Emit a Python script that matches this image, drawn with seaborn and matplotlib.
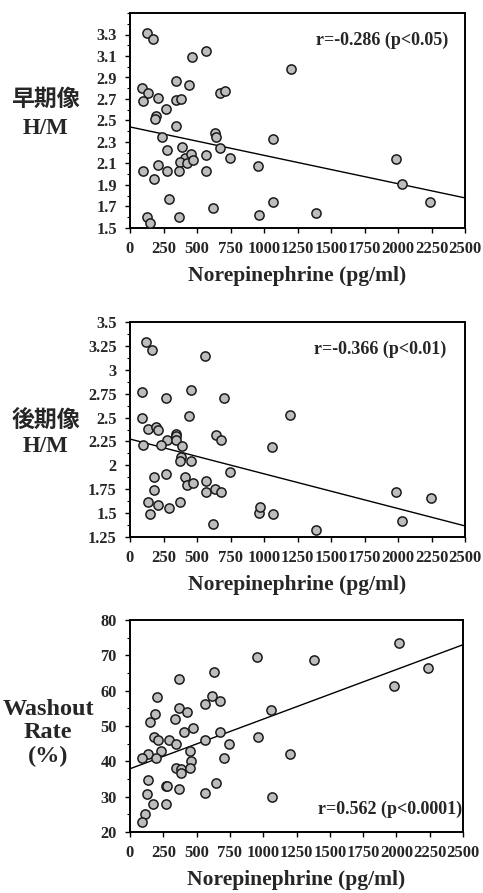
import numpy as np
import pandas as pd
import matplotlib
matplotlib.use("Agg")
import matplotlib.pyplot as plt
from matplotlib.ticker import MultipleLocator
import seaborn as sns

# ---------------- data ----------------
ne_early = [124, 174, 459, 566, 1199, 342, 442, 87, 137, 94, 211, 340, 377, 268, 675, 707,
            194, 186, 347, 236, 633, 643, 1067, 278, 387, 675, 407, 372, 427, 452, 472, 566,
            745, 211, 99, 273, 367, 566, 956, 179, 293, 616, 1067, 129, 149, 365, 963,
            1988, 2027, 2241, 1390]
hm_early = [3.31, 3.26, 3.095, 3.148, 2.98, 2.87, 2.83, 2.806, 2.754, 2.68, 2.71, 2.69, 2.70,
            2.61, 2.76, 2.775, 2.545, 2.51, 2.45, 2.35, 2.386, 2.35, 2.33, 2.23, 2.256, 2.24,
            2.15, 2.11, 2.105, 2.19, 2.13, 2.18, 2.147, 2.09, 2.03, 2.03, 2.03, 2.03, 2.076,
            1.955, 1.77, 1.687, 1.74, 1.60, 1.55, 1.60, 1.625, 2.14, 1.91, 1.74, 1.64]

ne_late = [119, 166, 561, 87, 454, 268, 700, 1191, 92, 437, 132, 191, 211, 340, 342, 640, 678,
           278, 342, 99, 231, 390, 1062, 380, 372, 452, 745, 181, 268, 410, 422, 472, 564, 181,
           564, 633, 678, 132, 211, 293, 372, 149, 961, 968, 1067, 616, 1988, 2246, 2027, 1390]
hm_late = [3.29, 3.21, 3.14, 2.765, 2.79, 2.706, 2.706, 2.53, 2.496, 2.52, 2.38, 2.40, 2.37,
           2.33, 2.31, 2.32, 2.265, 2.265, 2.26, 2.216, 2.216, 2.20, 2.195, 2.09, 2.05, 2.05,
           1.93, 1.873, 1.908, 1.873, 1.796, 1.82, 1.838, 1.74, 1.716, 1.75, 1.716, 1.618,
           1.583, 1.558, 1.618, 1.495, 1.505, 1.569, 1.495, 1.383, 1.716, 1.663, 1.418, 1.324]

ne_wr = [951, 628, 367, 206, 613, 678, 564, 367, 427, 1062, 186, 335, 149, 472, 404, 675, 179,
         961, 211, 293, 564, 342, 745, 236, 447, 137, 92, 194, 707, 1199, 459, 342, 385, 447,
         385, 132, 645, 268, 281, 365, 124, 564, 1067, 174, 273, 112, 87, 2018, 1385, 2234, 1981]
washout = [69.4, 65.3, 63.4, 58.3, 58.5, 57.1, 56.1, 55.2, 54.0, 54.4, 53.3, 52.1, 51.1, 49.5,
           48.2, 48.2, 46.9, 46.9, 46.0, 46.0, 46.0, 45.0, 45.0, 43.0, 43.0, 42.1, 40.9, 40.9,
           40.9, 42.1, 40.0, 38.1, 37.9, 38.1, 36.7, 34.8, 34.0, 33.1, 32.9, 32.1, 30.8, 31.0,
           29.9, 28.0, 28.0, 25.0, 22.9, 73.6, 68.7, 66.4, 61.3]

fit_x = [0, 2500]
fit_early = [2.44, 1.78]
fit_late = [2.275, 1.366]
fit_wr = [37.9, 73.0]

x_ticks = [0, 250, 500, 750, 1000, 1250, 1500, 1750, 2000, 2250, 2500]
y_ticks_early = [1.5, 1.7, 1.9, 2.1, 2.3, 2.5, 2.7, 2.9, 3.1, 3.3]
y_labels_early = ["1.5", "1.7", "1.9", "2.1", "2.3", "2.5", "2.7", "2.9", "3.1", "3.3"]
y_ticks_late = [1.25, 1.5, 1.75, 2.0, 2.25, 2.5, 2.75, 3.0, 3.25, 3.5]
y_labels_late = ["1.25", "1.5", "1.75", "2", "2.25", "2.5", "2.75", "3", "3.25", "3.5"]
y_ticks_wr = [20, 30, 40, 50, 60, 70, 80]
y_labels_wr = ["20", "30", "40", "50", "60", "70", "80"]

ylabels = ["早期像\nH/M", "後期像\nH/M", "Washout\nRate\n(%)"]
annots = ["r=-0.286 (p<0.05)", "r=-0.366 (p<0.01)", "r=0.562 (p<0.0001)"]
xlabel = "Norepinephrine (pg/ml)"

# ---------------- style ----------------
sns.set_theme(style="ticks")
plt.rcParams["font.family"] = ["Liberation Serif", "Noto Sans CJK JP", "DejaVu Sans"]
plt.rcParams["font.weight"] = "bold"

fig = plt.figure(figsize=(4.83, 8.93), dpi=100)
W, H = 483.0, 893.0
boxes = [(130, 13, 465, 228), (130, 322, 465, 537), (130, 620, 463, 832)]

panels = [
    (ne_early, hm_early, fit_early, (1.5, 3.5), y_ticks_early, y_labels_early, 0.1),
    (ne_late, hm_late, fit_late, (1.25, 3.5), y_ticks_late, y_labels_late, 0.125),
    (ne_wr, washout, fit_wr, (20, 80), y_ticks_wr, y_labels_wr, 5),
]
ylab_pos = [(-0.252, 0.53), (-0.252, 0.48), (-0.246, 0.467)]
ylab_size = [16.5, 16.5, 17.5]
ylab_ls = [1.45, 1.25, 1.15]
ann_pos = [(0.949, 0.915, "top"), (0.943, 0.915, "top"), (0.997, 0.105, "center")]

for i, (xs, ys, fy, ylim, yt, yl, minor) in enumerate(panels):
    l, t, r, b = boxes[i]
    ax = fig.add_axes([l / W, 1 - b / H, (r - l) / W, (b - t) / H])
    df = pd.DataFrame({"x": xs, "y": ys})
    sns.scatterplot(data=df, x="x", y="y", ax=ax, s=44, color="#bdbdbd",
                    edgecolor="#1a1a1a", linewidth=1.1, zorder=3, legend=False)
    fdf = pd.DataFrame({"x": fit_x, "y": fy})
    sns.lineplot(data=fdf, x="x", y="y", ax=ax, color="black", linewidth=1.0,
                 zorder=2, legend=False)
    ax.set_xlim(0, 2500)
    ax.set_ylim(*ylim)
    ax.set_xticks(x_ticks)
    ax.set_xticklabels([str(v) for v in x_ticks], fontsize=12, fontweight="bold")
    ax.set_yticks(yt)
    ax.set_yticklabels(yl, fontsize=11.8, fontweight="bold")
    ax.yaxis.set_minor_locator(MultipleLocator(minor))
    ax.tick_params(axis="both", which="major", direction="out", length=3.5,
                   width=1.0, color="black", pad=6)
    ax.tick_params(axis="y", which="minor", direction="out", length=2,
                   width=0.8, color="black")
    for s in ax.spines.values():
        s.set_visible(True)
        s.set_linewidth(1.4)
        s.set_color("black")
    ax.set_xlabel(xlabel, fontsize=15.5, fontweight="bold", labelpad=6)
    ax.set_ylabel(ylabels[i], fontsize=ylab_size[i], fontweight="bold", rotation=0,
                  ha="center", va="center", linespacing=ylab_ls[i])
    ax.yaxis.set_label_coords(*ylab_pos[i])
    ax.grid(False)
    ax.set_facecolor("white")
    ax.text(ann_pos[i][0], ann_pos[i][1], annots[i], transform=ax.transAxes,
            ha="right", va=ann_pos[i][2], fontsize=13, fontweight="bold")

fig.savefig("out.png", dpi=100, facecolor="white")
